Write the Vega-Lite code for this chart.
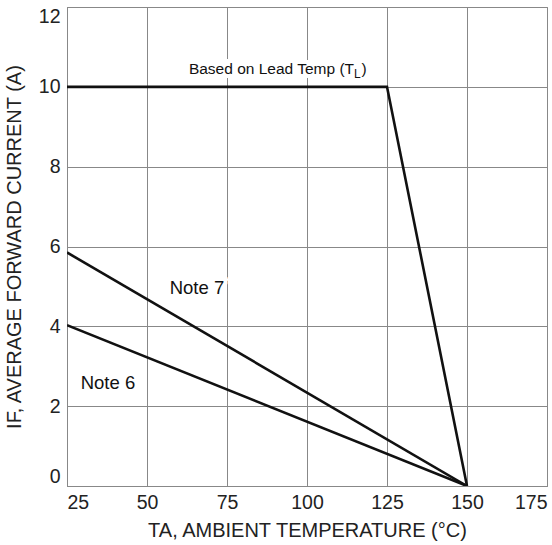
{
  "$schema": "https://vega.github.io/schema/vega-lite/v6.json",
  "autosize": "none",
  "width": 480,
  "height": 479,
  "padding": {"left": 67, "top": 7, "right": 5, "bottom": 59},
  "background": "white",
  "config": {
    "view": {"stroke": "#888888", "strokeWidth": 1},
    "font": "Liberation Sans",
    "axis": {
      "gridColor": "#888888", "gridWidth": 1, "gridOpacity": 1,
      "domainColor": "#888888", "domainWidth": 1,
      "ticks": false, "labelFont": "Liberation Sans", "labelFontSize": 19.5,
      "labelColor": "#222222", "titleFont": "Liberation Sans", "titleFontSize": 20,
      "titleFontWeight": "normal", "titleColor": "#222222"
    }
  },
  "datasets": {
    "curves": [
      {"series": "Lead", "temp": 25, "current": 10},
      {"series": "Lead", "temp": 125, "current": 10},
      {"series": "Lead", "temp": 150, "current": 0},
      {"series": "Note 7", "temp": 25, "current": 5.85},
      {"series": "Note 7", "temp": 150, "current": 0},
      {"series": "Note 6", "temp": 25, "current": 4.03},
      {"series": "Note 6", "temp": 150, "current": 0}
    ],
    "notes": [
      {"label": "Note 7", "temp": 65.6, "current": 4.96},
      {"label": "Note 6", "temp": 37.8, "current": 2.58}
    ],
    "lead": [
      {"main": "Based on Lead Temp (T", "sub": "L", "close": ")", "temp": 114.7, "current": 10.33}
    ]
  },
  "layer": [
    {
      "data": {"name": "curves"},
      "mark": {"type": "line", "color": "#111111", "strokeWidth": 2.6, "clip": true},
      "encoding": {
        "x": {"field": "temp", "type": "quantitative",
              "scale": {"domain": [25, 175], "nice": false, "zero": false},
              "axis": {"values": [25, 50, 75, 100, 125, 150, 175], "labelFlush": true, "labelPadding": 7,
                       "title": "TA, AMBIENT TEMPERATURE (°C)", "titlePadding": 9}},
        "y": {"field": "current", "type": "quantitative",
              "scale": {"domain": [0, 12], "nice": false},
              "axis": {"values": [0, 2, 4, 6, 8, 10, 12], "labelFlush": true, "labelPadding": 7,
                       "title": "IF, AVERAGE FORWARD CURRENT (A)", "titlePadding": 14}},
        "detail": {"field": "series"}
      }
    },
    {
      "data": {"name": "notes"},
      "mark": {"type": "text", "fontSize": 18.5, "color": "white", "stroke": "white", "strokeWidth": 8},
      "encoding": {
        "x": {"field": "temp", "type": "quantitative"},
        "y": {"field": "current", "type": "quantitative"},
        "text": {"field": "label"}
      }
    },
    {
      "data": {"name": "notes"},
      "mark": {"type": "text", "fontSize": 18.5, "color": "#111111"},
      "encoding": {
        "x": {"field": "temp", "type": "quantitative"},
        "y": {"field": "current", "type": "quantitative"},
        "text": {"field": "label"}
      }
    },
    {
      "data": {"name": "lead"},
      "mark": {"type": "text", "fontSize": 15.5, "align": "right", "baseline": "alphabetic", "color": "white", "stroke": "white", "strokeWidth": 8},
      "encoding": {
        "x": {"field": "temp", "type": "quantitative"},
        "y": {"field": "current", "type": "quantitative"},
        "text": {"field": "main"}
      }
    },
    {
      "data": {"name": "lead"},
      "mark": {"type": "text", "fontSize": 15.5, "align": "right", "baseline": "alphabetic", "color": "#111111"},
      "encoding": {
        "x": {"field": "temp", "type": "quantitative"},
        "y": {"field": "current", "type": "quantitative"},
        "text": {"field": "main"}
      }
    },
    {
      "data": {"name": "lead"},
      "mark": {"type": "text", "fontSize": 12, "align": "left", "baseline": "alphabetic", "dx": 0, "dy": 4, "color": "#111111"},
      "encoding": {
        "x": {"field": "temp", "type": "quantitative"},
        "y": {"field": "current", "type": "quantitative"},
        "text": {"field": "sub"}
      }
    },
    {
      "data": {"name": "lead"},
      "mark": {"type": "text", "fontSize": 15.5, "align": "left", "baseline": "alphabetic", "dx": 7.5, "color": "#111111"},
      "encoding": {
        "x": {"field": "temp", "type": "quantitative"},
        "y": {"field": "current", "type": "quantitative"},
        "text": {"field": "close"}
      }
    }
  ]
}
